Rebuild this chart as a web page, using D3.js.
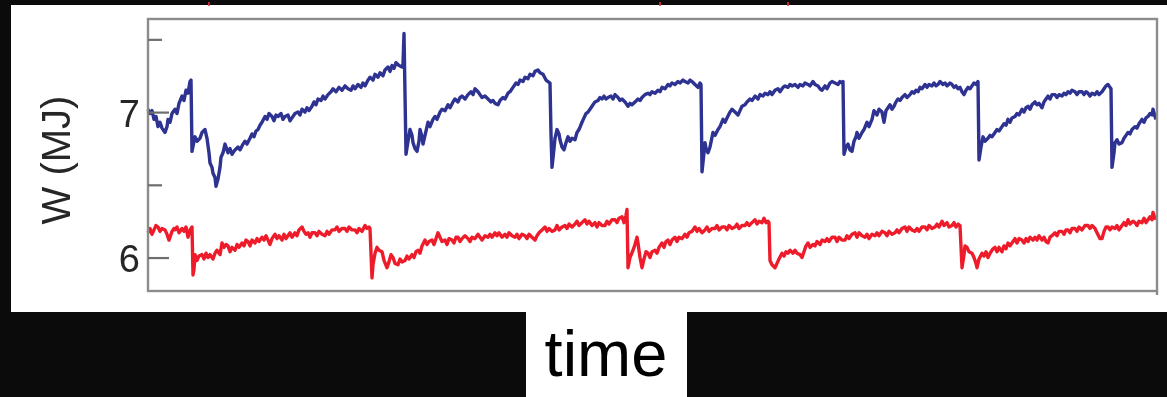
<!DOCTYPE html>
<html>
<head>
<meta charset="utf-8">
<script src="https://cdn.jsdelivr.net/npm/d3@7"></script>
<style>
  html, body { margin: 0; padding: 0; background: #0b0b0b; }
  svg { display: block; }
</style>
</head>
<body>
<svg id="chart" width="1167" height="397"></svg>
<script>
// Stored energy W (MJ) over time for two discharges: [time, W]
const blueSeries = [
[0,7.02],[2,6.99],[4,7.01],[6,6.95],[8,6.97],[10,6.90],[12,6.93],[14,6.89],[17,6.86],[19,6.90],[20,6.95],[22,6.93],[24,6.99],[27,7.02],[29,6.99],[31,7.06],[34,7.11],[36,7.08],[38,7.15],[40,7.13],[42,7.21],[43,7.22],[44,6.73],[46,6.80],[47,6.83],[49,6.80],[52,6.82],[54,6.86],[57,6.88],[59,6.82],[61,6.72],[62,6.65],[64,6.62],[65,6.58],[67,6.55],[68,6.49],[70,6.54],[72,6.62],[73,6.69],[75,6.72],[77,6.78],[79,6.74],[80,6.72],[82,6.75],[84,6.71],[85,6.72],[87,6.74],[90,6.76],[92,6.74],[95,6.78],[97,6.80],[99,6.78],[102,6.82],[104,6.85],[106,6.83],[108,6.87],[110,6.88],[112,6.91],[114,6.93],[117,6.97],[119,6.95],[121,6.99],[124,6.97],[126,6.94],[128,6.98],[130,6.97],[133,6.99],[135,6.95],[137,6.97],[140,6.98],[142,6.94],[144,6.96],[147,6.99],[150,7.00],[152,6.98],[154,7.02],[157,7.00],[159,7.03],[161,7.01],[164,7.04],[166,7.07],[168,7.05],[170,7.09],[173,7.08],[175,7.11],[177,7.09],[180,7.12],[183,7.14],[185,7.16],[188,7.14],[191,7.17],[194,7.15],[197,7.18],[200,7.16],[203,7.15],[205,7.18],[207,7.16],[210,7.19],[213,7.17],[215,7.20],[217,7.18],[220,7.22],[222,7.24],[225,7.22],[227,7.26],[230,7.24],[232,7.27],[235,7.25],[237,7.29],[240,7.31],[242,7.28],[244,7.32],[246,7.30],[248,7.34],[251,7.32],[254,7.31],[255,7.33],[256,7.54],[258,6.71],[260,6.80],[262,6.88],[264,6.84],[265,6.79],[267,6.75],[269,6.73],[271,6.80],[272,6.88],[274,6.83],[275,6.78],[277,6.84],[280,6.93],[282,6.90],[285,6.95],[287,6.97],[289,6.95],[292,7.00],[294,7.02],[297,7.01],[300,7.05],[302,7.03],[305,7.07],[307,7.09],[310,7.07],[312,7.10],[314,7.11],[317,7.09],[320,7.12],[323,7.14],[325,7.12],[327,7.16],[330,7.14],[332,7.12],[334,7.10],[337,7.11],[340,7.09],[343,7.07],[345,7.08],[347,7.06],[350,7.05],[352,7.08],[355,7.10],[357,7.09],[360,7.13],[362,7.14],[365,7.17],[368,7.20],[370,7.19],[372,7.22],[375,7.21],[377,7.24],[380,7.23],[382,7.26],[385,7.25],[387,7.28],[390,7.29],[392,7.27],[395,7.26],[398,7.22],[400,7.21],[402,7.20],[403,6.85],[404,6.62],[406,6.75],[407,6.82],[409,6.88],[411,6.85],[412,6.81],[414,6.76],[416,6.74],[418,6.79],[420,6.83],[422,6.80],[424,6.82],[427,6.81],[429,6.86],[431,6.88],[434,6.93],[436,6.96],[438,6.99],[440,7.00],[443,7.03],[445,7.05],[447,7.07],[450,7.08],[452,7.10],[454,7.09],[456,7.11],[458,7.09],[460,7.10],[463,7.11],[465,7.09],[467,7.12],[470,7.10],[472,7.08],[474,7.09],[477,7.07],[480,7.04],[482,7.06],[484,7.05],[487,7.07],[490,7.09],[492,7.08],[494,7.10],[497,7.12],[500,7.13],[502,7.12],[504,7.14],[507,7.13],[510,7.15],[512,7.14],[514,7.17],[517,7.16],[520,7.19],[522,7.18],[524,7.20],[527,7.19],[530,7.21],[532,7.20],[535,7.22],[537,7.21],[540,7.20],[542,7.22],[544,7.21],[547,7.19],[550,7.17],[552,7.20],[553,7.19],[554,6.59],[556,6.72],[557,6.79],[558,6.75],[560,6.72],[562,6.76],[565,6.86],[567,6.84],[570,6.88],[572,6.90],[575,6.95],[577,6.93],[579,6.96],[582,7.00],[584,7.02],[587,7.00],[590,6.98],[592,7.01],[594,7.04],[597,7.05],[599,7.07],[602,7.09],[604,7.08],[607,7.11],[610,7.09],[612,7.12],[615,7.11],[617,7.13],[620,7.12],[622,7.14],[624,7.12],[627,7.15],[630,7.16],[632,7.14],[635,7.17],[637,7.18],[640,7.17],[642,7.19],[644,7.18],[647,7.19],[650,7.17],[652,7.19],[655,7.18],[657,7.20],[660,7.19],[662,7.18],[665,7.21],[667,7.19],[670,7.18],[672,7.16],[674,7.15],[677,7.18],[679,7.16],[682,7.20],[684,7.21],[687,7.20],[690,7.19],[692,7.21],[694,7.20],[695,7.21],[696,6.71],[698,6.76],[700,6.78],[702,6.74],[704,6.73],[706,6.80],[708,6.83],[709,6.86],[711,6.82],[714,6.86],[716,6.88],[719,6.93],[721,6.90],[724,6.95],[726,7.01],[729,6.98],[731,7.02],[734,7.00],[736,6.93],[738,7.01],[740,7.03],[742,7.05],[744,7.02],[746,7.04],[748,7.07],[750,7.09],[752,7.08],[754,7.10],[757,7.12],[759,7.10],[762,7.12],[764,7.14],[766,7.13],[768,7.15],[770,7.14],[772,7.17],[774,7.16],[777,7.19],[779,7.17],[781,7.19],[784,7.18],[786,7.20],[788,7.18],[790,7.19],[792,7.21],[795,7.19],[797,7.20],[799,7.18],[802,7.20],[804,7.19],[806,7.17],[808,7.18],[810,7.16],[812,7.17],[814,7.14],[816,7.12],[818,7.15],[820,7.17],[822,7.16],[824,7.18],[826,7.20],[828,7.19],[830,7.21],[831,6.67],[833,6.76],[835,6.83],[837,6.80],[840,6.82],[842,6.84],[844,6.83],[847,6.86],[849,6.88],[851,6.87],[854,6.90],[856,6.92],[858,6.91],[860,6.95],[862,6.93],[864,6.96],[867,6.97],[869,6.99],[871,6.98],[874,7.02],[876,7.00],[878,7.03],[880,7.04],[882,7.02],[884,7.05],[887,7.07],[889,7.05],[891,7.06],[894,7.03],[896,7.07],[898,7.09],[900,7.11],[902,7.09],[904,7.12],[907,7.12],[909,7.10],[911,7.12],[914,7.11],[916,7.13],[918,7.12],[920,7.14],[922,7.13],[924,7.15],[927,7.14],[929,7.12],[931,7.14],[934,7.14],[936,7.12],[938,7.14],[940,7.13],[942,7.11],[944,7.13],[947,7.12],[949,7.14],[951,7.12],[954,7.14],[956,7.16],[958,7.18],[960,7.19],[962,7.17],[963,7.16],[964,6.62],[966,6.72],[967,6.79],[969,6.81],[971,6.78],[974,6.79],[976,6.82],[978,6.84],[980,6.86],[982,6.85],[984,6.88],[987,6.90],[989,6.89],[991,6.92],[994,6.95],[996,6.93],[998,6.96],[1000,6.97],[1002,6.99],[1004,6.98],[1005,7.02],[1007,6.97],[1008,6.95]
];

const redSeries = [
[0,6.17],[2,6.20],[4,6.16],[6,6.19],[8,6.22],[10,6.21],[12,6.18],[14,6.20],[17,6.19],[19,6.16],[21,6.12],[22,6.14],[24,6.18],[26,6.20],[27,6.19],[29,6.21],[31,6.17],[34,6.20],[36,6.18],[38,6.21],[40,6.14],[42,6.19],[44,6.21],[45,5.88],[46,5.92],[47,6.02],[49,5.98],[51,6.01],[54,6.02],[56,5.99],[58,6.03],[60,6.00],[62,6.02],[65,5.99],[67,6.03],[69,6.05],[72,6.02],[74,6.10],[76,6.07],[78,6.09],[80,6.08],[82,6.04],[84,6.07],[87,6.05],[89,6.09],[91,6.07],[94,6.10],[96,6.08],[98,6.12],[100,6.11],[102,6.08],[104,6.12],[107,6.10],[109,6.13],[111,6.11],[114,6.14],[116,6.12],[118,6.15],[120,6.12],[122,6.09],[124,6.13],[127,6.16],[129,6.13],[131,6.15],[134,6.12],[136,6.16],[138,6.13],[140,6.15],[142,6.17],[144,6.14],[147,6.17],[149,6.15],[151,6.19],[154,6.21],[156,6.18],[158,6.16],[160,6.17],[162,6.14],[164,6.17],[167,6.17],[169,6.15],[171,6.18],[174,6.16],[177,6.15],[179,6.18],[181,6.16],[184,6.19],[187,6.19],[189,6.21],[191,6.18],[194,6.20],[197,6.20],[199,6.18],[201,6.21],[204,6.19],[207,6.19],[209,6.17],[211,6.20],[214,6.18],[217,6.22],[219,6.20],[221,6.21],[222,6.20],[224,5.86],[225,5.95],[227,6.03],[229,6.07],[231,6.05],[234,6.04],[236,5.98],[239,5.93],[241,5.97],[243,6.02],[245,6.00],[247,5.96],[250,5.95],[252,5.99],[254,5.97],[257,5.98],[259,6.01],[261,5.99],[264,6.02],[266,6.00],[268,6.04],[270,6.05],[272,6.03],[274,6.08],[277,6.12],[279,6.09],[281,6.11],[284,6.12],[286,6.09],[288,6.13],[290,6.17],[292,6.14],[294,6.11],[297,6.12],[299,6.09],[301,6.13],[304,6.12],[306,6.10],[308,6.14],[310,6.14],[312,6.11],[314,6.13],[317,6.15],[320,6.13],[322,6.11],[324,6.14],[327,6.13],[330,6.16],[332,6.14],[334,6.12],[337,6.15],[340,6.14],[342,6.16],[344,6.14],[347,6.17],[349,6.15],[351,6.17],[354,6.14],[357,6.16],[359,6.14],[361,6.17],[364,6.15],[367,6.14],[369,6.16],[371,6.13],[374,6.16],[377,6.15],[379,6.13],[381,6.16],[384,6.14],[387,6.12],[389,6.15],[391,6.17],[394,6.19],[397,6.21],[399,6.18],[401,6.20],[404,6.18],[407,6.19],[409,6.22],[411,6.19],[414,6.21],[417,6.22],[419,6.20],[421,6.23],[424,6.21],[427,6.23],[429,6.25],[431,6.22],[434,6.24],[437,6.26],[439,6.23],[441,6.25],[444,6.22],[447,6.24],[449,6.21],[451,6.24],[454,6.22],[457,6.22],[459,6.25],[461,6.23],[464,6.26],[467,6.26],[469,6.24],[471,6.27],[474,6.28],[476,6.24],[478,6.29],[479,6.33],[480,5.93],[482,6.00],[485,6.05],[487,6.09],[489,6.14],[490,6.10],[492,6.00],[494,5.93],[496,5.99],[498,6.04],[500,6.03],[502,6.00],[504,6.04],[507,6.05],[509,6.03],[511,6.07],[514,6.10],[516,6.07],[518,6.11],[520,6.12],[522,6.09],[524,6.12],[527,6.14],[529,6.11],[531,6.14],[534,6.13],[537,6.16],[539,6.14],[541,6.17],[544,6.18],[547,6.21],[549,6.18],[551,6.20],[554,6.17],[557,6.19],[559,6.21],[561,6.18],[564,6.20],[567,6.20],[569,6.22],[571,6.19],[574,6.21],[577,6.21],[579,6.19],[581,6.22],[584,6.20],[587,6.21],[589,6.23],[591,6.20],[594,6.22],[597,6.22],[599,6.24],[601,6.22],[604,6.24],[607,6.26],[609,6.23],[611,6.25],[614,6.24],[616,6.27],[618,6.24],[620,6.25],[621,6.24],[622,5.98],[624,5.95],[627,5.93],[629,5.96],[631,5.99],[634,6.03],[636,6.01],[638,6.04],[640,6.03],[642,6.05],[645,6.03],[647,6.05],[649,6.03],[652,6.02],[654,6.00],[656,6.04],[658,6.08],[660,6.10],[662,6.07],[665,6.09],[667,6.08],[669,6.11],[672,6.09],[674,6.12],[677,6.11],[679,6.13],[681,6.11],[684,6.14],[687,6.14],[689,6.11],[691,6.14],[694,6.12],[697,6.12],[699,6.15],[701,6.13],[704,6.16],[707,6.17],[709,6.14],[711,6.17],[714,6.15],[717,6.14],[719,6.16],[721,6.13],[724,6.16],[727,6.15],[729,6.17],[731,6.15],[734,6.18],[737,6.17],[739,6.15],[741,6.18],[744,6.16],[747,6.17],[749,6.19],[751,6.17],[754,6.20],[757,6.21],[759,6.18],[761,6.21],[764,6.19],[767,6.18],[769,6.20],[771,6.18],[774,6.21],[777,6.21],[779,6.19],[781,6.22],[784,6.20],[787,6.21],[789,6.23],[791,6.21],[794,6.25],[796,6.22],[799,6.24],[801,6.21],[804,6.22],[806,6.24],[808,6.21],[810,6.23],[812,6.22],[814,5.93],[816,6.02],[817,6.08],[819,6.07],[821,6.04],[824,6.03],[826,6.00],[828,5.96],[829,5.93],[831,5.99],[834,6.03],[836,6.01],[838,6.04],[840,6.00],[842,6.03],[845,6.06],[847,6.07],[849,6.04],[851,6.07],[854,6.04],[856,6.08],[858,6.06],[860,6.10],[862,6.08],[865,6.11],[867,6.13],[869,6.10],[871,6.13],[874,6.12],[876,6.10],[878,6.13],[880,6.11],[882,6.14],[885,6.12],[887,6.14],[889,6.12],[891,6.15],[894,6.12],[896,6.14],[898,6.11],[900,6.10],[902,6.14],[904,6.15],[907,6.17],[909,6.15],[911,6.18],[914,6.18],[916,6.16],[918,6.19],[920,6.19],[922,6.17],[924,6.20],[927,6.20],[929,6.18],[931,6.21],[934,6.19],[937,6.22],[940,6.22],[942,6.20],[944,6.22],[947,6.20],[949,6.17],[952,6.13],[954,6.13],[956,6.18],[958,6.21],[960,6.21],[962,6.19],[964,6.21],[967,6.20],[969,6.22],[971,6.19],[974,6.22],[976,6.24],[978,6.22],[980,6.26],[982,6.23],[985,6.25],[987,6.24],[989,6.22],[991,6.25],[994,6.24],[996,6.27],[998,6.24],[1000,6.26],[1002,6.28],[1004,6.26],[1005,6.31],[1007,6.27],[1008,6.28]
];

const majorTicks = [6, 7];
const minorTicks = [6.5, 7.5];
const yLabel = "W (MJ)";
const xLabel = "time";
const timeDomain = [0, 1009];
const wDomain = [5.77, 7.64];

const svg = d3.select("#chart");

// blur to soften the plotted panel
const defs = svg.append("defs");
defs.append("filter").attr("id", "soft")
  .attr("x", "-5%").attr("y", "-5%").attr("width", "110%").attr("height", "110%")
  .append("feGaussianBlur").attr("stdDeviation", 0.6);

// white panels
svg.append("rect").attr("x", 11).attr("y", 5).attr("width", 1156).attr("height", 307).attr("fill", "#fff");
svg.append("rect").attr("x", 526).attr("y", 311).attr("width", 161).attr("height", 86).attr("fill", "#fff");

const plot = { left: 148, right: 1157, top: 19, bottom: 291 };
const x = d3.scaleLinear().domain(timeDomain).range([plot.left, plot.right]);
const y = d3.scaleLinear().domain(wDomain).range([plot.bottom, plot.top]);

const g = svg.append("g").attr("filter", "url(#soft)");

const line = d3.line().x(d => x(d[0])).y(d => y(d[1]));

g.append("path").datum(redSeries)
  .attr("d", line).attr("fill", "none")
  .attr("stroke", "#ee1f2b").attr("stroke-width", 3.4).attr("stroke-linejoin", "round");

g.append("path").datum(blueSeries)
  .attr("d", line).attr("fill", "none")
  .attr("stroke", "#2e3191").attr("stroke-width", 3.4).attr("stroke-linejoin", "round");

// frame
g.append("rect")
  .attr("x", plot.left).attr("y", plot.top)
  .attr("width", plot.right - plot.left).attr("height", plot.bottom - plot.top)
  .attr("fill", "none").attr("stroke", "#8c8c8c").attr("stroke-width", 2.4);
g.append("line")
  .attr("x1", plot.right).attr("x2", plot.right)
  .attr("y1", plot.bottom).attr("y2", plot.bottom + 4)
  .attr("stroke", "#8c8c8c").attr("stroke-width", 2.4);

// inward ticks
const majorAxis = g.append("g").attr("transform", `translate(${plot.left},0)`)
  .call(d3.axisRight(y).tickValues(majorTicks).tickSize(21).tickFormat(""));
const minorAxis = g.append("g").attr("transform", `translate(${plot.left},0)`)
  .call(d3.axisRight(y).tickValues(minorTicks).tickSize(14).tickFormat(""));
[majorAxis, minorAxis].forEach(a => {
  a.select(".domain").remove();
  a.selectAll(".tick line").attr("stroke", "#6e6e6e").attr("stroke-width", 2.2);
});

// tick labels
const labelAxis = g.append("g").attr("transform", `translate(${plot.left - 5},0)`)
  .call(d3.axisLeft(y).tickValues(majorTicks).tickSize(0).tickFormat(d3.format("d")));
labelAxis.select(".domain").remove();
labelAxis.selectAll(".tick text")
  .attr("font-family", "'Liberation Sans', Arial, sans-serif")
  .attr("font-size", 38).attr("fill", "#262626")
  .attr("dy", "0.38em");

// y-axis title
g.append("text")
  .attr("transform", "translate(70,160) rotate(-90)")
  .attr("text-anchor", "middle")
  .attr("font-family", "'Liberation Sans', Arial, sans-serif")
  .attr("font-size", 40).attr("fill", "#262626")
  .text(yLabel);

// x-axis title
svg.append("text")
  .attr("x", 606).attr("y", 376)
  .attr("text-anchor", "middle")
  .attr("font-family", "'Liberation Sans', Arial, sans-serif")
  .attr("font-size", 65).attr("fill", "#000")
  .text(xLabel);

// small red marks at the upper edge
svg.selectAll("rect.edge").data([209, 660, 788]).enter().append("rect")
  .attr("class", "edge").attr("x", d => d - 1).attr("y", 2).attr("width", 2).attr("height", 4)
  .attr("fill", "#e8303a").attr("opacity", 0.8);
</script>
</body>
</html>
